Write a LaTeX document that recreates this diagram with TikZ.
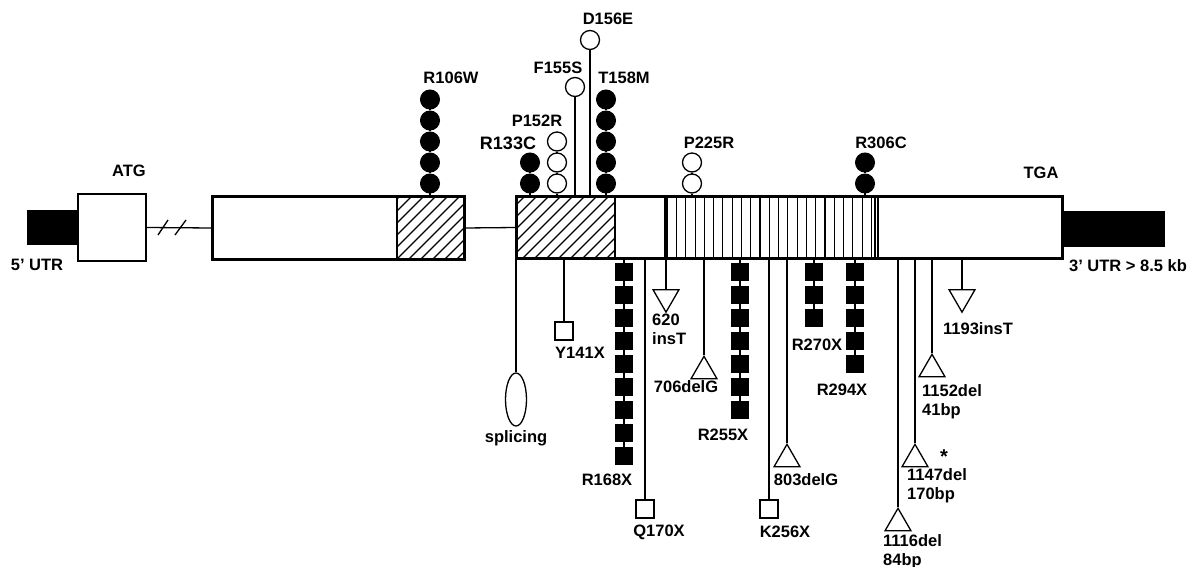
\documentclass[tikz,border=0pt]{standalone}
\usepackage{fontspec}
\setmainfont{Liberation Sans}
\usetikzlibrary{shapes.geometric}

\begin{document}
\begin{tikzpicture}[
    x=1pt, y=-1pt,
    exon/.style={draw, line width=1.6pt, fill=white, inner sep=0pt},
    utr/.style={fill=black, inner sep=0pt},
    stem/.style={draw, line width=1.3pt},
    mis/.style={circle, draw, fill=black, line width=1pt, minimum size=19pt, inner sep=0pt},
    misfree/.style={circle, draw, fill=white, line width=1.3pt, minimum size=19pt, inner sep=0pt},
    stopbox/.style={rectangle, fill=black, minimum size=18pt, inner sep=0pt},
    stopfree/.style={rectangle, draw, fill=white, line width=1.3pt, minimum size=18pt, inner sep=0pt},
    insmark/.style={regular polygon, regular polygon sides=3, shape border rotate=180, draw, line width=1.3pt, minimum size=30pt, inner sep=0pt, anchor=north},
    delmark/.style={regular polygon, regular polygon sides=3, draw, line width=1.3pt, minimum size=30pt, inner sep=0pt, anchor=north},
    lab/.style={font=\fontsize{16.5}{19}\selectfont\bfseries, inner sep=0pt},
    labl/.style={lab, align=left, anchor=north west}
]
  \useasboundingbox (0,0) rectangle (1192,567);
  % --- gene: UTRs, exons and introns -------------------------------------
  \node[utr, minimum width=51pt, minimum height=35pt] (utr5) at (52.5,227.5) {};
  \node[utr, minimum width=103pt, minimum height=36pt] (utr3) at (1113.5,229) {};
  \node[exon, minimum width=68pt, minimum height=67pt] (ex1) at (112,227.5) {};
  \node[exon, minimum width=251pt, minimum height=62pt] (ex2) at (338.5,228) {};
  \node[exon, minimum width=545pt, minimum height=61pt] (ex3) at (789.5,227.5) {};
  \draw[stem] (ex1.east) -- (ex2.west);
  \draw[stem] (ex2.east) -- (ex3.west);
  \draw[stem] (158,235) -- (168,220);
  \draw[stem] (175,235) -- (186,220);
  % hatched parts
  \begin{scope}
    \clip (397,197) rectangle (464,259);
    \foreach \x in {325,337,...,470} { \draw[line width=1.2pt] (\x,259) -- ++(62,-62); }
  \end{scope}
  \begin{scope}
    \clip (517,197) rectangle (615,258);
    \foreach \x in {450,462,...,620} { \draw[line width=1.2pt] (\x,259) -- ++(62,-62); }
  \end{scope}
  \draw[line width=1.6pt] (397,197) -- (397,259);
  \draw[line width=1.6pt] (615,197) -- (615,258);
  % striped part
  \draw[line width=3.5pt] (666,197) -- (666,258);
  \foreach \i in {0,...,21} { \draw[line width=1.1pt] ({676.5+9.28*\i},197) -- ++(0,61); }
  \draw[line width=1.1pt] (875,197) -- (875,258);
  \draw[line width=1.6pt] (878,197) -- (878,258);
  \draw[exon, fill=none] (ex2.north west) rectangle (ex2.south east);
  \draw[exon, fill=none] (ex3.north west) rectangle (ex3.south east);

  \node[lab] (atg) at (129,171) {ATG};
  \node[lab] (tga) at (1041,173) {TGA};
  \node[lab] (u5) at (37,265) {5' UTR};
  \node[lab] (u3) at (1128,266) {3' UTR > 8.5 kb};

  % --- missense, above the exons -----------------------------------------
  \foreach \nm/\cx/\n in {r106/430/5, r133/530/2, t158/606/5, r306/865/2} {
    \coordinate (\nm-0) at (\cx,197);
    \foreach \k in {1,...,\n} { \node[mis] (\nm-\k) at (\cx,{183.5-21*(\k-1)}) {}; }
    \draw[stem] (\nm-0) -- (\nm-1.south);
    \foreach \k [evaluate=\k as \j using int(\k-1)] in {2,...,\n} { \draw[stem] (\nm-\j.north) -- (\nm-\k.south); }
  }
  \foreach \nm/\cx/\n in {p152/557/3, p225/692/2} {
    \coordinate (\nm-0) at (\cx,197);
    \foreach \k in {1,...,\n} { \node[misfree] (\nm-\k) at (\cx,{183.5-21*(\k-1)}) {}; }
    \draw[stem] (\nm-0) -- (\nm-1.south);
    \foreach \k [evaluate=\k as \j using int(\k-1)] in {2,...,\n} { \draw[stem] (\nm-\j.north) -- (\nm-\k.south); }
  }
  \coordinate (f155-0) at (575,197);
  \coordinate (d156-0) at (590,197);
  \node[misfree] (f155) at (575,87) {};
  \node[misfree] (d156) at (590,40) {};
  \draw[stem] (f155-0) -- (f155.south);
  \draw[stem] (d156-0) -- (d156.south);

  \node[lab] (l106) at (451,78) {R106W};
  \node[lab, font=\fontsize{18}{20}\selectfont\bfseries] (l133) at (508,143) {R133C};
  \node[lab] (l152) at (537,121) {P152R};
  \node[lab] (l155) at (558,68) {F155S};
  \node[lab] (l156) at (608,19) {D156E};
  \node[lab] (l158) at (624,78) {T158M};
  \node[lab] (l225) at (709,143) {P225R};
  \node[lab] (l306) at (881,143) {R306C};

  % --- nonsense, splicing and frameshifts, below -------------------------
  \foreach \nm/\cx/\n in {r168/624/9, r255/740/7, r270/814/3, r294/855/5} {
    \coordinate (\nm-0) at (\cx,258);
    \foreach \k in {1,...,\n} { \node[stopbox] (\nm-\k) at (\cx,{272+23*(\k-1)}) {}; }
    \draw[stem] (\nm-0) -- (\nm-1.north);
    \foreach \k [evaluate=\k as \j using int(\k-1)] in {2,...,\n} { \draw[stem] (\nm-\j.south) -- (\nm-\k.north); }
  }
  \foreach \nm/\cx/\cy in {y141/564/331, q170/645/509, k256/769/509} {
    \coordinate (\nm-0) at (\cx,258);
    \node[stopfree] (\nm) at (\cx,\cy) {};
    \draw[stem] (\nm-0) -- (\nm.north);
  }
  \coordinate (spl-0) at (516,258);
  \node[ellipse, draw, line width=1.3pt, minimum width=21pt, minimum height=53pt, inner sep=0pt] (spl) at (516,399.5) {};
  \draw[stem] (spl-0) -- (spl.north);
  \foreach \nm/\cx/\cy in {i620/666/289, i1193/962/289} {
    \coordinate (\nm-0) at (\cx,258);
    \node[insmark] (\nm) at (\cx,\cy) {};
    \draw[stem] (\nm-0) -- (\nm.north);
  }
  \foreach \nm/\cx/\cy in {d706/704/355, d803/787/443, d1152/932/353, d1147/915/443, d1116/898/507} {
    \coordinate (\nm-0) at (\cx,258);
    \node[delmark] (\nm) at (\cx,\cy) {};
    \draw[stem] (\nm-0) -- (\nm.north);
  }

  \node[lab] (lspl) at (516,438) {splicing};
  \node[lab] (l141) at (580,353) {Y141X};
  \node[lab] (l168) at (607,480) {R168X};
  \node[lab] (l170) at (659,532) {Q170X};
  \node[labl] (l620) at (652,314) {620\\insT};
  \node[lab] (l706) at (686,387) {706delG};
  \node[lab] (l255) at (723,435) {R255X};
  \node[lab] (l256) at (785,532) {K256X};
  \node[lab] (l803) at (806,480) {803delG};
  \node[lab] (l270) at (817,345) {R270X};
  \node[lab] (l294) at (842,390) {R294X};
  \node[lab] (l1193) at (978,329) {1193insT};
  \node[labl] (l1152) at (922,384) {1152del\\41bp};
  \node[labl] (l1147) at (907,468) {1147del\\170bp};
  \node[labl] (l1116) at (883,534) {1116del\\84bp};
  \node[lab, font=\fontsize{20}{20}\selectfont\bfseries] (star) at (944,457) {*};
\end{tikzpicture}
\end{document}
